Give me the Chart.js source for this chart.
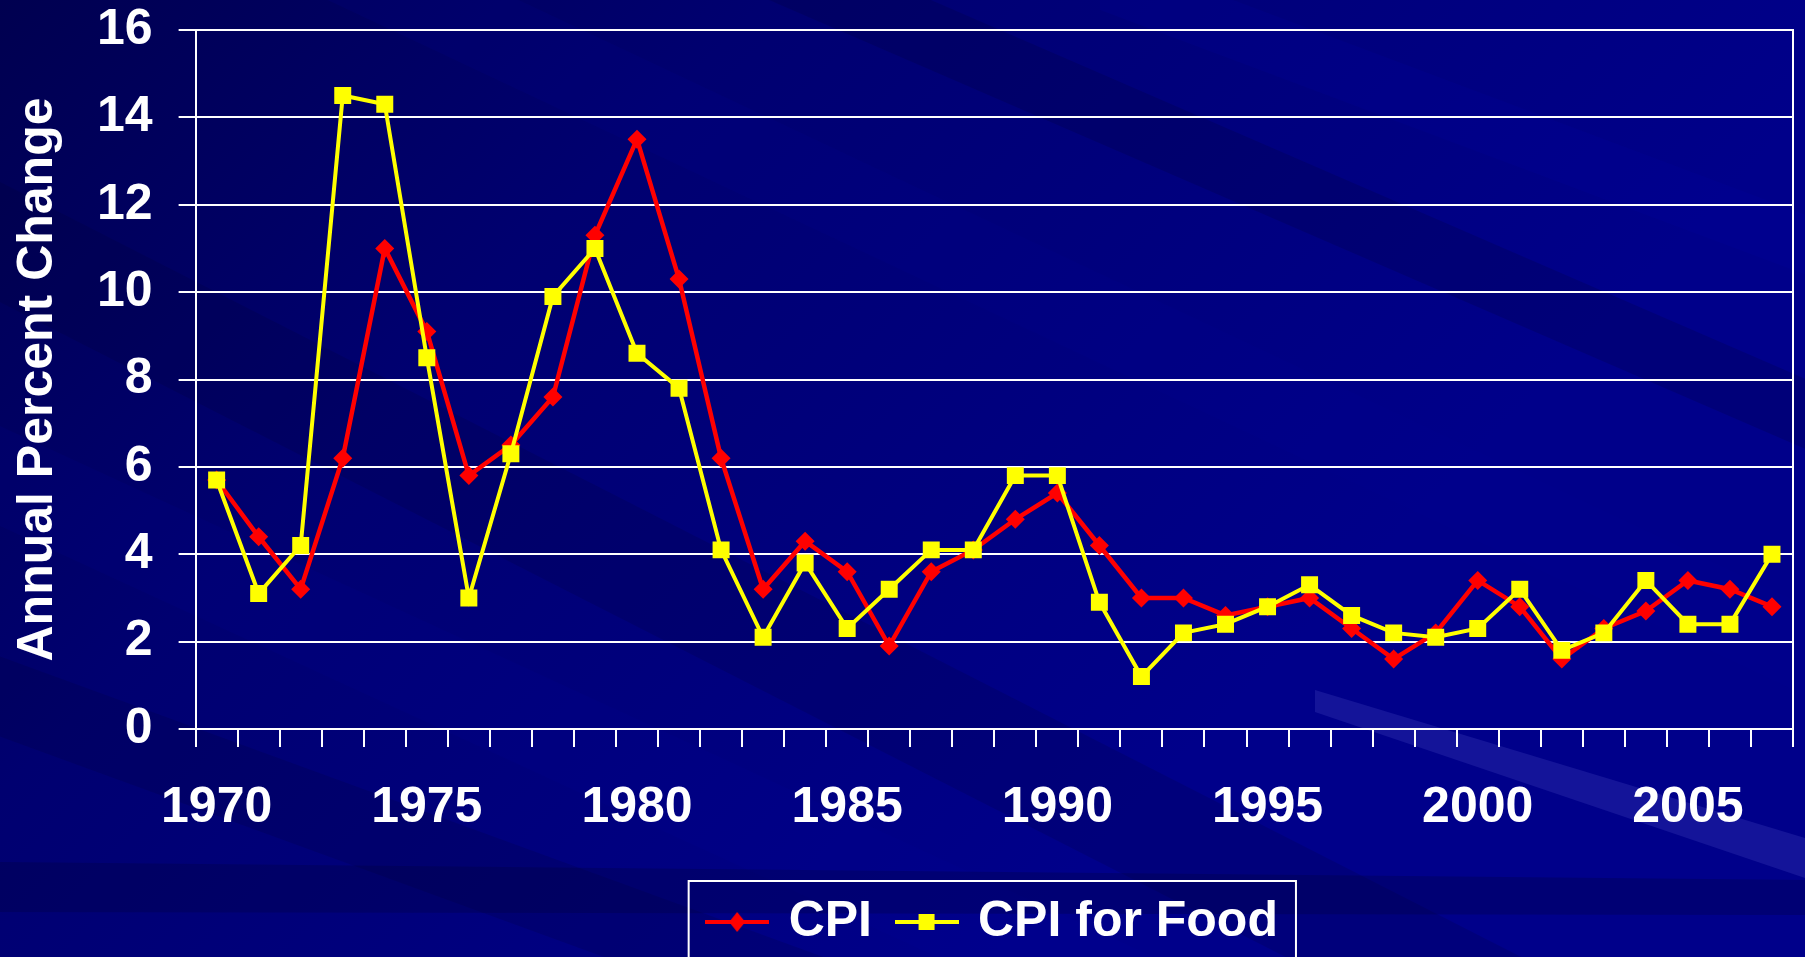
<!DOCTYPE html>
<html>
<head>
<meta charset="utf-8">
<title>CPI and CPI for Food</title>
<script src="https://cdn.jsdelivr.net/npm/chart.js@4.4.1/dist/chart.umd.min.js"></script>
<style>
  html, body { margin: 0; padding: 0; background: #000070; overflow: hidden; }
  #wrap { width: 1805px; height: 957px; }
</style>
</head>
<body>
<div id="wrap"><canvas id="cpiChart" width="1805" height="957"></canvas></div>
<script>
// Annual percent change, 1970-2007
const years = [1970, 1971, 1972, 1973, 1974, 1975, 1976, 1977, 1978, 1979,
               1980, 1981, 1982, 1983, 1984, 1985, 1986, 1987, 1988, 1989,
               1990, 1991, 1992, 1993, 1994, 1995, 1996, 1997, 1998, 1999,
               2000, 2001, 2002, 2003, 2004, 2005, 2006, 2007];
const cpiValues = [5.7, 4.4, 3.2, 6.2, 11.0, 9.1, 5.8, 6.5, 7.6, 11.3,
                   13.5, 10.3, 6.2, 3.2, 4.3, 3.6, 1.9, 3.6, 4.1, 4.8,
                   5.4, 4.2, 3.0, 3.0, 2.6, 2.8, 3.0, 2.3, 1.6, 2.2,
                   3.4, 2.8, 1.6, 2.3, 2.7, 3.4, 3.2, 2.8];
const foodValues = [5.7, 3.1, 4.2, 14.5, 14.3, 8.5, 3.0, 6.3, 9.9, 11.0,
                    8.6, 7.8, 4.1, 2.1, 3.8, 2.3, 3.2, 4.1, 4.1, 5.8,
                    5.8, 2.9, 1.2, 2.2, 2.4, 2.8, 3.3, 2.6, 2.2, 2.1,
                    2.3, 3.2, 1.8, 2.2, 3.4, 2.4, 2.4, 4.0];
const seriesNames = ['CPI', 'CPI for Food'];
const seriesColors = ['#ff0000', '#ffff00'];
const yTickMin = 0;
const yTickMax = 16;
const yTickStep = 2;
const yTitle = 'Annual Percent Change';

const FONT = '"Liberation Sans", Arial, Helvetica, sans-serif';

// small line + marker pictures for the legend
function legendMarker(color, shape) {
    const c = document.createElement('canvas');
    c.width = 64;
    c.height = 24;
    const g = c.getContext('2d');
    g.strokeStyle = color;
    g.fillStyle = color;
    g.lineWidth = 4;
    g.beginPath();
    g.moveTo(0, 12);
    g.lineTo(64, 12);
    g.stroke();
    if (shape === 'diamond') {
        g.beginPath();
        g.moveTo(32, 2);
        g.lineTo(40, 12);
        g.lineTo(32, 22);
        g.lineTo(24, 12);
        g.closePath();
        g.fill();
    } else {
        g.fillRect(24, 4, 16, 16);
    }
    return c;
}
const legendImages = [legendMarker(seriesColors[0], 'diamond'), legendMarker(seriesColors[1], 'square')];

// dark blue slide background with diagonal streaks
const slideBackground = {
    id: 'slideBackground',
    beforeDraw(chart) {
        const {ctx, width, height} = chart;
        ctx.save();
        const g = ctx.createLinearGradient(0, 0, width * 0.55, height);
        g.addColorStop(0, '#000050');
        g.addColorStop(0.4, '#000070');
        g.addColorStop(1, '#00008a');
        ctx.fillStyle = g;
        ctx.fillRect(0, 0, width, height);

        const bands = [
            // x0, y0, x1, y1, thickness, colour
            [-200, 80, 1900, 1150, 120, 'rgba(0,0,40,0.15)'],
            [200, -150, 1900, 650, 90, 'rgba(0,0,150,0.15)'],
            [700, -100, 1900, 420, 70, 'rgba(0,0,45,0.18)'],
            [-100, 380, 1900, 1300, 100, 'rgba(0,0,160,0.12)'],
            [1100, -50, 1900, 250, 60, 'rgba(0,0,170,0.15)'],
            [-100, 620, 1900, 1350, 80, 'rgba(0,0,40,0.15)']
        ];
        bands.forEach(([x0, y0, x1, y1, t, col]) => {
            ctx.beginPath();
            ctx.moveTo(x0, y0);
            ctx.lineTo(x1, y1);
            ctx.lineTo(x1, y1 + t);
            ctx.lineTo(x0, y0 + t);
            ctx.closePath();
            ctx.fillStyle = col;
            ctx.fill();
        });
        // the light beam at lower right
        ctx.beginPath();
        ctx.moveTo(1315, 690);
        ctx.lineTo(1805, 838);
        ctx.lineTo(1805, 878);
        ctx.lineTo(1315, 712);
        ctx.closePath();
        ctx.fillStyle = 'rgba(90,90,210,0.22)';
        ctx.fill();
        // darker band near the bottom
        ctx.fillStyle = 'rgba(0,0,50,0.25)';
        ctx.beginPath();
        ctx.moveTo(0, 862);
        ctx.lineTo(1805, 880);
        ctx.lineTo(1805, 915);
        ctx.lineTo(0, 912);
        ctx.closePath();
        ctx.fill();
        ctx.restore();
    }
};

// white frame around the legend (runs off the bottom edge like the slide)
const legendFrame = {
    id: 'legendFrame',
    afterDraw(chart) {
        const lg = chart.legend;
        if (!lg || !lg.legendHitBoxes || !lg.legendHitBoxes.length) return;
        const boxes = lg.legendHitBoxes;
        const first = boxes[0];
        const last = boxes[boxes.length - 1];
        const ctx = chart.ctx;
        ctx.save();
        ctx.strokeStyle = '#ffffff';
        ctx.lineWidth = 2;
        const left = first.left - 22;
        const right = last.left + last.width + 18;
        ctx.strokeRect(left, first.top - 16, right - left, 200);
        ctx.restore();
    }
};

Chart.defaults.font.family = FONT;
Chart.defaults.font.weight = 'bold';
Chart.defaults.color = '#ffffff';

const ctx = document.getElementById('cpiChart').getContext('2d');
const cpiChart = new Chart(ctx, {
    type: 'line',
    data: {
        labels: years,
        datasets: [{
            label: seriesNames[0],
            data: cpiValues,
            borderColor: seriesColors[0],
            backgroundColor: seriesColors[0],
            borderWidth: 4.5,
            pointStyle: 'rectRot',
            pointRadius: 9.5,
            pointBorderWidth: 0,
            tension: 0,
            order: 2
        }, {
            label: seriesNames[1],
            data: foodValues,
            borderColor: seriesColors[1],
            backgroundColor: seriesColors[1],
            borderWidth: 4,
            pointStyle: 'rect',
            pointRadius: 12,
            pointBorderWidth: 0,
            tension: 0,
            order: 1
        }]
    },
    options: {
        responsive: false,
        animation: false,
        devicePixelRatio: 1,
        layout: { padding: { left: 8, right: 5, top: 30, bottom: 0 } },
        scales: {
            x: {
                type: 'category',
                offset: true,
                grid: {
                    offset: true,
                    drawOnChartArea: false,
                    color: '#ffffff',
                    lineWidth: 2,
                    tickLength: 18
                },
                border: { color: '#ffffff', width: 2 },
                ticks: {
                    autoSkip: false,
                    maxRotation: 0,
                    padding: 31,
                    font: { size: 50, weight: 'bold', family: FONT },
                    color: '#ffffff',
                    callback: function(value, index) {
                        return years[index] % 5 === 0 ? String(years[index]) : '';
                    }
                }
            },
            y: {
                min: yTickMin,
                max: yTickMax,
                // keep the top label overhang from pushing the plot down
                afterFit: function(scale) {
                    scale.paddingTop = 30;
                },
                grid: {
                    color: '#ffffff',
                    lineWidth: 2,
                    tickLength: 17
                },
                border: { color: '#ffffff', width: 2 },
                ticks: {
                    stepSize: yTickStep,
                    padding: 26,
                    font: { size: 50, weight: 'bold', family: FONT },
                    color: '#ffffff'
                },
                title: {
                    display: true,
                    text: yTitle,
                    color: '#ffffff',
                    font: { size: 50, weight: 'bold', family: FONT },
                    padding: { top: 0, bottom: 3 }
                }
            },
            yRight: {
                position: 'right',
                min: yTickMin,
                max: yTickMax,
                grid: { drawOnChartArea: false, drawTicks: false },
                border: { color: '#ffffff', width: 2 },
                ticks: { display: false }
            }
        },
        plugins: {
            legend: {
                position: 'bottom',
                fullSize: false,
                labels: {
                    usePointStyle: true,
                    pointStyleWidth: 53,
                    padding: 28,
                    color: '#ffffff',
                    font: { size: 50, weight: 'bold', family: FONT },
                    generateLabels(chart) {
                        const items = Chart.defaults.plugins.legend.labels.generateLabels(chart);
                        items.forEach(it => { it.pointStyle = legendImages[it.datasetIndex]; });
                        return items.sort((a, b) => a.datasetIndex - b.datasetIndex);
                    }
                }
            },
            tooltip: { enabled: false }
        }
    },
    plugins: [slideBackground, legendFrame]
});
</script>
</body>
</html>
